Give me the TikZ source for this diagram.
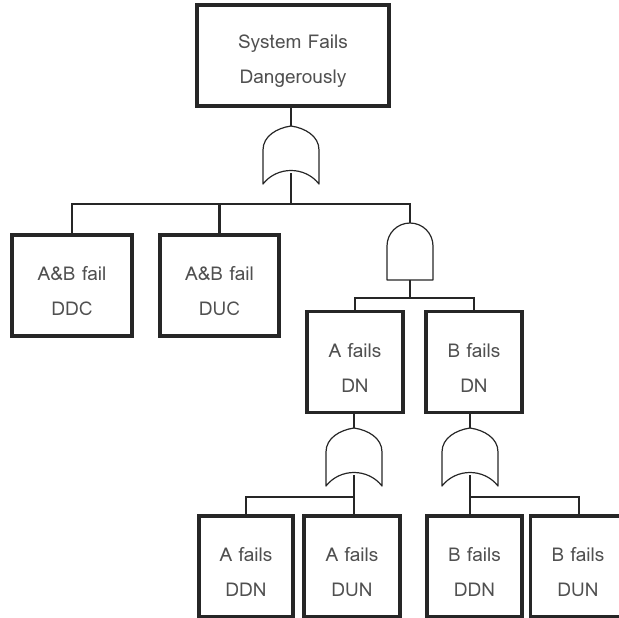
\documentclass[tikz,border=0pt]{standalone}
\usepackage{fontspec}
\newfontfamily\lomafont{Loma}
\usetikzlibrary{calc}
\definecolor{ink}{HTML}{262626}
\definecolor{txt}{HTML}{505050}
% two-line event text, with a strut to sit the text a little lower in its box
\newcommand\evtext[2]{\rule{0pt}{25pt}#1\\#2}
\tikzset{
  event/.style={draw=ink, line width=3.4pt, fill=white, inner sep=0pt,
    minimum height=101pt, align=center, text=txt,
    font=\lomafont\fontsize{19}{35}\selectfont},
  link/.style={draw=ink, line width=2.4pt},
  gateline/.style={draw=ink, line width=1.2pt, line join=round},
  orgate/.pic={
    \draw[gateline] (-28,58) -- (-28,24) .. controls (-28,10) and (-14,2) .. (0,0)
      .. controls (14,2) and (28,10) .. (28,24) -- (28,58)
      .. controls (14,40) and (-14,40) .. cycle;
    \coordinate (-top) at (0,0);
    \coordinate (-in) at (0,47);
  },
  andgate/.pic={
    \draw[gateline] (-23,57) -- (-23,23) arc[start angle=180, end angle=360, radius=23]
      -- (23,57) -- cycle;
    \coordinate (-top) at (0,0);
    \coordinate (-in) at (0,57);
  }
}
\begin{document}
\begin{tikzpicture}[x=1pt, y=-1pt]
\useasboundingbox (0,0) rectangle (619,618);

% events
\node[event, minimum width=192pt] (top) at (293,55.5) {\evtext{System Fails}{Dangerously}};
\node[event, minimum width=120pt] (ddc) at (72,285.5) {\evtext{A\&B fail}{DDC}};
\node[event, minimum width=119pt] (duc) at (219.5,285.5) {\evtext{A\&B fail}{DUC}};
\node[event, minimum width=96pt] (adn) at (355,362) {\evtext{A fails}{DN}};
\node[event, minimum width=96pt] (bdn) at (474,362) {\evtext{B fails}{DN}};
\node[event, minimum width=94pt] (addn) at (246,566.5) {\evtext{A fails}{DDN}};
\node[event, minimum width=96pt] (adun) at (352,566.5) {\evtext{A fails}{DUN}};
\node[event, minimum width=95pt] (bddn) at (474.5,566.5) {\evtext{B fails}{DDN}};
\node[event, minimum width=95pt] (bdun) at (578,566.5) {\evtext{B fails}{DUN}};

% gates
\pic (g1) at (291,126) {orgate};
\pic (ga) at (410,223) {andgate};
\pic (g2) at (354,428) {orgate};
\pic (g3) at (470,428) {orgate};

% bus junctions
\coordinate (bus1) at (291,204);
\coordinate (bus2) at (410,298);
\coordinate (bus3) at (354,497);
\coordinate (bus4) at (470,497);
\coordinate (bdunin) at (579,516.5);

% connectors
\draw[link] (top.south -| g1-top) -- (g1-top);
\draw[link] (g1-in) -- (bus1);
\draw[link] (ddc.north) |- (bus1) -| (ga-top);
\draw[link] (duc.north) -- (duc.north |- bus1);

\draw[link] (ga-in) -- (bus2);
\draw[link] (adn.north) |- (bus2) -| (bdn.north);

\draw[link] (adn.south -| g2-top) -- (g2-top);
\draw[link] (g2-in) -- (g2-in |- adun.north);
\draw[link] (addn.north) |- (bus3);

\draw[link] (bdn.south -| g3-top) -- (g3-top);
\draw[link] (g3-in) -- (g3-in |- bddn.north);
\draw[link] (bus4) -| (bdunin);
\end{tikzpicture}
\end{document}
